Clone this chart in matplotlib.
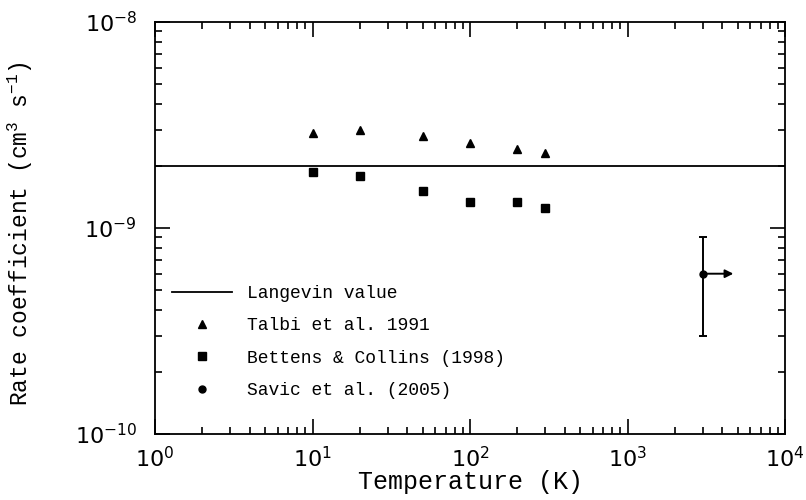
import matplotlib

matplotlib.use("Agg")

import matplotlib.pyplot as plt
from matplotlib.lines import Line2D

# data
langevin_value = 2.0e-9
temps = [10, 20, 50, 100, 200, 300]
talbi_rates = [2.89e-9, 3.0e-9, 2.8e-9, 2.6e-9, 2.41e-9, 2.31e-9]
bettens_rates = [1.87e-9, 1.78e-9, 1.52e-9, 1.34e-9, 1.34e-9, 1.25e-9]
savic_temp = 3000
savic_temp_arrow_end = 4700
savic_rate = 6.0e-10
savic_low = 3.0e-10
savic_high = 9.0e-10

plt.rcParams["font.family"] = ["Liberation Mono", "DejaVu Sans Mono"]
plt.rcParams["mathtext.default"] = "regular"

fig = plt.figure(figsize=(8.06, 5.0), dpi=100)
ax = fig.add_axes([155 / 806, 66 / 500, 630 / 806, 412 / 500])

ax.axhline(langevin_value, color="black", linewidth=1.3)
ax.plot(temps, talbi_rates, linestyle="none", marker="^", markersize=6, color="black")
ax.plot(temps, bettens_rates, linestyle="none", marker="s", markersize=5.5, color="black")

ax.errorbar(
    [savic_temp],
    [savic_rate],
    yerr=[[savic_rate - savic_low], [savic_high - savic_rate]],
    fmt="o",
    color="black",
    markersize=5,
    capsize=3,
    elinewidth=1.4,
    capthick=1.4,
)
ax.annotate(
    "",
    xy=(savic_temp_arrow_end, savic_rate),
    xytext=(savic_temp, savic_rate),
    arrowprops=dict(arrowstyle="-|>", color="black", lw=1.4, mutation_scale=12,
                    shrinkA=0, shrinkB=0),
)

ax.set_xscale("log")
ax.set_yscale("log")
ax.set_xlim(1, 1e4)
ax.set_ylim(1e-10, 1e-8)

ax.tick_params(which="both", direction="in", top=True, right=True, width=1.2)
ax.tick_params(which="major", length=11)
ax.tick_params(which="minor", length=5)
ax.tick_params(axis="y", which="major", pad=13)
ax.tick_params(axis="x", which="major", pad=9)
for label in ax.get_xticklabels() + ax.get_yticklabels():
    label.set_fontfamily("DejaVu Sans")
    label.set_fontsize(16)
for spine in ax.spines.values():
    spine.set_linewidth(1.3)

ax.set_xlabel("Temperature (K)", fontsize=18, va="top")
ax.xaxis.set_label_coords(0.5, -0.087)
ax.set_ylabel("Rate coefficient (cm$^{3}$ s$^{-1}$)", fontsize=16.5)
ax.yaxis.set_label_coords(-0.19, 0.485)

handles = [
    Line2D([], [], color="black", linewidth=1.3),
    Line2D([], [], linestyle="none", marker="^", markersize=6, color="black"),
    Line2D([], [], linestyle="none", marker="s", markersize=5.5, color="black"),
    Line2D([], [], linestyle="none", marker="o", markersize=5, color="black"),
]
labels = ["Langevin value", "Talbi et al. 1991", "Bettens & Collins (1998)", "Savic et al. (2005)"]
ax.legend(handles, labels, loc="upper left", bbox_to_anchor=(0.027, 0.362), frameon=False,
          borderaxespad=0, borderpad=0, fontsize=13, handlelength=3.33, handletextpad=0.83,
          labelspacing=0.85)

fig.savefig("out.png", dpi=100)
